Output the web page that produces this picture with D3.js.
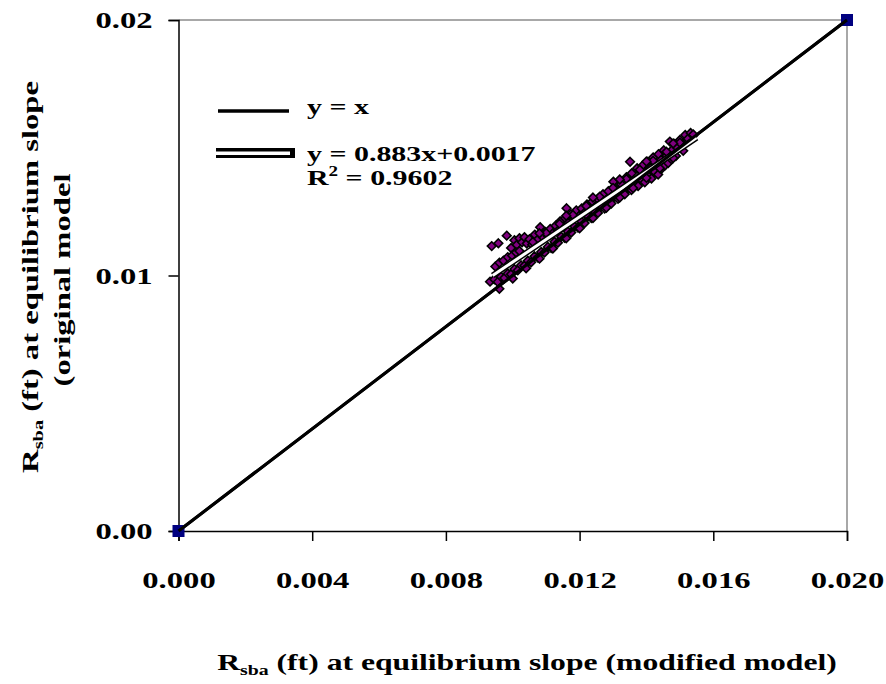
<!DOCTYPE html>
<html>
<head>
<meta charset="utf-8">
<script src="https://cdn.jsdelivr.net/npm/d3@7"></script>
<style>
  body { margin: 0; background: #fff; }
  text { font-family: "Liberation Serif", "Times New Roman", serif; font-weight: bold; fill: #000; }
</style>
</head>
<body>
<svg class="chart" width="886" height="684"></svg>
<script>
// tick values
var xTicks = [0, 0.004, 0.008, 0.012, 0.016, 0.020];
var yTicks = [0, 0.01, 0.02];

// y = x series (two end points)
var equalLine = [[0, 0], [0.02, 0.02]];

// linear fit y = 0.883x + 0.0017, drawn over the data range
var fitSlope = 0.883, fitIntercept = 0.0017;
var fitRange = [0.0094, 0.0155];

// scatter: points above the fit line
var upperBand = [
  [0.00937, 0.01115], [0.00957, 0.01126], [0.00982, 0.01156], [0.00995, 0.01108],
  [0.01005, 0.01138], [0.01012, 0.01120], [0.01020, 0.01146], [0.01028, 0.01130],
  [0.01035, 0.01150], [0.01042, 0.01125], [0.01050, 0.01142], [0.01058, 0.01120],
  [0.01066, 0.01160], [0.01074, 0.01140], [0.01082, 0.01189], [0.01090, 0.01150],
  [0.01098, 0.01170], [0.01105, 0.01155], [0.01112, 0.01182], [0.01120, 0.01165],
  [0.01128, 0.01195], [0.01135, 0.01175], [0.01142, 0.01212], [0.01150, 0.01190],
  [0.01157, 0.01225], [0.01161, 0.01263], [0.01166, 0.01205], [0.01174, 0.01240],
  [0.01182, 0.01218], [0.01190, 0.01255], [0.01198, 0.01232], [0.01206, 0.01262],
  [0.01214, 0.01245], [0.01222, 0.01278], [0.01230, 0.01255], [0.01238, 0.01290],
  [0.01246, 0.01268], [0.01254, 0.01300], [0.01262, 0.01280], [0.01270, 0.01318],
  [0.01278, 0.01292], [0.01286, 0.01330], [0.01294, 0.01305], [0.01301, 0.01367],
  [0.01308, 0.01340], [0.01316, 0.01318], [0.01324, 0.01358], [0.01332, 0.01335],
  [0.01340, 0.01385], [0.01351, 0.01445], [0.01348, 0.01352], [0.01356, 0.01400],
  [0.01364, 0.01370], [0.01372, 0.01420], [0.01380, 0.01388], [0.01388, 0.01430],
  [0.01396, 0.01405], [0.01404, 0.01445], [0.01412, 0.01420], [0.01420, 0.01462],
  [0.01428, 0.01438], [0.01436, 0.01475], [0.01444, 0.01452], [0.01452, 0.01490],
  [0.01460, 0.01468], [0.01470, 0.01524], [0.01476, 0.01490], [0.01484, 0.01515],
  [0.01492, 0.01500], [0.01500, 0.01530], [0.01508, 0.01515], [0.01516, 0.01550],
  [0.01524, 0.01535], [0.01532, 0.01558], [0.01540, 0.01548],
  [0.00948, 0.01035], [0.00960, 0.01050], [0.00972, 0.01058], [0.00985, 0.01072],
  [0.00998, 0.01078], [0.01010, 0.01090],
  [0.01020, 0.01096], [0.01060, 0.01131], [0.01100, 0.01166], [0.01140, 0.01202],
  [0.01180, 0.01237], [0.01220, 0.01272], [0.01260, 0.01308], [0.01300, 0.01343],
  [0.01340, 0.01378], [0.01380, 0.01414], [0.01420, 0.01449], [0.01460, 0.01484],
  [0.01500, 0.01520], [0.01540, 0.01552],
  [0.01080, 0.01165], [0.01160, 0.01234], [0.01240, 0.01305], [0.01320, 0.01376],
  [0.01400, 0.01446], [0.01480, 0.01517]
];

// scatter: points near y = x, below the fit line
var lowerBand = [
  [0.00932, 0.00976], [0.00945, 0.00985], [0.00955, 0.00975], [0.00965, 0.00995],
  [0.00975, 0.00990], [0.00985, 0.01008], [0.00995, 0.01005], [0.01005, 0.01025],
  [0.01015, 0.01020], [0.01025, 0.01040], [0.01035, 0.01038], [0.01045, 0.01058],
  [0.01055, 0.01052], [0.01065, 0.01075], [0.01075, 0.01070], [0.01085, 0.01092],
  [0.01095, 0.01090], [0.01105, 0.01112], [0.01115, 0.01108], [0.01125, 0.01132],
  [0.01135, 0.01128], [0.01145, 0.01152], [0.01155, 0.01148], [0.01165, 0.01172],
  [0.01175, 0.01168], [0.01185, 0.01192], [0.01195, 0.01188], [0.01205, 0.01212],
  [0.01215, 0.01205], [0.01225, 0.01232], [0.01235, 0.01225], [0.01245, 0.01250],
  [0.01255, 0.01245], [0.01265, 0.01270], [0.01275, 0.01262], [0.01285, 0.01290],
  [0.01295, 0.01282], [0.01305, 0.01308], [0.01315, 0.01300], [0.01325, 0.01325],
  [0.01335, 0.01318], [0.01345, 0.01342], [0.01355, 0.01335], [0.01365, 0.01358],
  [0.01375, 0.01350], [0.01385, 0.01375], [0.01395, 0.01365], [0.01405, 0.01390],
  [0.01415, 0.01380], [0.01425, 0.01405], [0.01435, 0.01395], [0.01445, 0.01418],
  [0.01455, 0.01430], [0.01465, 0.01440], [0.01475, 0.01455], [0.01488, 0.01468],
  [0.00960, 0.00948], [0.01000, 0.00988], [0.01040, 0.01028], [0.01080, 0.01066],
  [0.01120, 0.01106], [0.01160, 0.01146], [0.01200, 0.01185], [0.01240, 0.01225],
  [0.01280, 0.01265], [0.01320, 0.01305], [0.01360, 0.01342], [0.01400, 0.01382],
  [0.01440, 0.01420], [0.01480, 0.01460], [0.01510, 0.01488]
];

var svg = d3.select(".chart"),
    margin = { top: 20, right: 39, bottom: 153, left: 178.5 },
    width = +svg.attr("width") - margin.left - margin.right,
    height = +svg.attr("height") - margin.top - margin.bottom;

// the reference's bold serif text is wide: stretch it horizontally
var stretch = 1.36;

var x = d3.scaleLinear().domain([0, 0.02]).range([0, width]),
    y = d3.scaleLinear().domain([0, 0.02]).range([height, 0]);

var g = svg.append("g")
    .attr("transform", "translate(" + margin.left + "," + margin.top + ")");

// plot frame (top and right edges are grey)
g.append("path")
    .attr("d", "M0,0H" + width + "V" + height)
    .attr("fill", "none")
    .attr("stroke", "#8c8c8c")
    .attr("stroke-width", 1.5);

// x axis
var xAxis = g.append("g")
    .attr("transform", "translate(0," + height + ")")
    .call(d3.axisBottom(x).tickValues(xTicks).tickSize(10).tickPadding(30).tickFormat(d3.format(".3f")));

// y axis
var yAxis = g.append("g")
    .call(d3.axisLeft(y).tickValues(yTicks).tickSize(10).tickPadding(16).tickFormat(d3.format(".2f")));

[xAxis, yAxis].forEach(function(a) {
    a.select(".domain").attr("stroke", "#000").attr("stroke-width", 1.5);
    a.selectAll(".tick line").attr("stroke", "#000").attr("stroke-width", 1.5);
    a.selectAll(".tick text")
        .attr("fill", "#000")
        .style("font-family", "'Liberation Serif', serif")
        .style("font-weight", "bold")
        .style("font-size", "24px");
});
xAxis.selectAll(".tick text").attr("transform", "scale(" + stretch + ",1)");
yAxis.selectAll(".tick text")
    .attr("x", 0)
    .attr("transform", "translate(-26,0) scale(" + stretch + ",1)");

// y = x line
var line = d3.line()
    .x(function(d) { return x(d[0]); })
    .y(function(d) { return y(d[1]); });

g.append("path")
    .datum(equalLine)
    .attr("d", line)
    .attr("fill", "none")
    .attr("stroke", "#000")
    .attr("stroke-width", 3);

// scatter points
var diamond = d3.symbol().type(d3.symbolDiamond2).size(48);

g.append("g")
    .selectAll("path")
    .data(upperBand.concat(lowerBand))
    .enter().append("path")
    .attr("d", diamond)
    .attr("transform", function(d) { return "translate(" + x(d[0]) + "," + y(d[1]) + ")"; })
    .attr("fill", "#800080")
    .attr("stroke", "#000")
    .attr("stroke-width", 1.6);

// fit line: white with black edge
var fitPts = fitRange.map(function(v) { return [v, fitSlope * v + fitIntercept]; });
g.append("path").datum(fitPts).attr("d", line)
    .attr("stroke", "#000").attr("stroke-width", 6).attr("fill", "none");
g.append("path").datum(fitPts).attr("d", line)
    .attr("stroke", "#fff").attr("stroke-width", 3).attr("fill", "none");

// end point markers of y = x series
g.selectAll(".endpt")
    .data(equalLine)
    .enter().append("rect")
    .attr("class", "endpt")
    .attr("x", function(d) { return x(d[0]) - 6; })
    .attr("y", function(d) { return y(d[1]) - 6; })
    .attr("width", 12)
    .attr("height", 12)
    .attr("fill", "#000080");
g.append("path")
    .datum(equalLine)
    .attr("d", line)
    .attr("stroke", "#000").attr("stroke-width", 3).attr("fill", "none");

// legend
var legend = svg.append("g");
legend.append("line")
    .attr("x1", 218).attr("x2", 289).attr("y1", 111).attr("y2", 111)
    .attr("stroke", "#000").attr("stroke-width", 3.5);
legend.append("text")
    .attr("transform", "translate(307,114) scale(" + stretch + ",1)")
    .style("font-size", "22px").text("y = x");

legend.append("rect").attr("x", 216).attr("y", 148).attr("width", 79).attr("height", 10).attr("fill", "#000");
legend.append("rect").attr("x", 216).attr("y", 151.5).attr("width", 74).attr("height", 3.5).attr("fill", "#fff");
legend.append("text")
    .attr("transform", "translate(307,161) scale(" + stretch + ",1)")
    .style("font-size", "22px").text("y = 0.883x+0.0017");
var r2 = legend.append("text")
    .attr("transform", "translate(307,185) scale(" + stretch + ",1)")
    .style("font-size", "22px");
r2.append("tspan").text("R");
r2.append("tspan").attr("dy", -9).style("font-size", "14px").text("2");
r2.append("tspan").attr("dy", 9).text(" = 0.9602");

// axis titles
var xTitle = svg.append("text")
    .attr("transform", "translate(527,670) scale(1.32,1)")
    .attr("text-anchor", "middle")
    .style("font-size", "24px");
xTitle.append("tspan").text("R");
xTitle.append("tspan").attr("dy", 5).style("font-size", "15px").text("sba");
xTitle.append("tspan").attr("dy", -5).text(" (ft) at equilibrium slope (modified model)");

var yTitle = svg.append("text")
    .attr("transform", "translate(38,277) rotate(-90) scale(" + stretch + ",1)")
    .attr("text-anchor", "middle")
    .style("font-size", "24px");
yTitle.append("tspan").text("R");
yTitle.append("tspan").attr("dy", 5).style("font-size", "15px").text("sba");
yTitle.append("tspan").attr("dy", -5).text(" (ft) at equilibrium slope");

svg.append("text")
    .attr("transform", "translate(70,280) rotate(-90) scale(" + stretch + ",1)")
    .attr("text-anchor", "middle")
    .style("font-size", "24px")
    .text("(original model");
</script>
</body>
</html>
